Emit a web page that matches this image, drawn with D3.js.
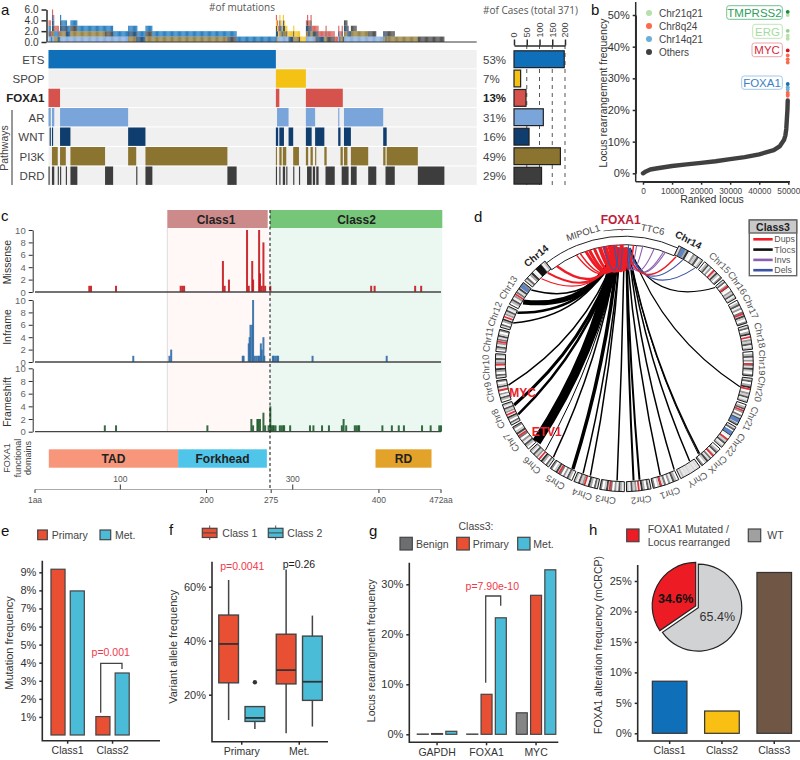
<!DOCTYPE html>
<html>
<head>
<meta charset="utf-8">
<script src="https://cdn.jsdelivr.net/npm/d3@7"></script>
<style>
  body { margin: 0; background: #fff; }
  svg { display: block; font-family: "Liberation Sans", Arial, sans-serif; }
  .axis path, .axis line { stroke: #2b2b2b; stroke-width: 1.5; }
</style>
</head>
<body>
<svg id="fig" width="800" height="760"></svg>
<script>
// panel a: oncoprint, segments are [firstCase, lastCase)
const totalCases = 371;
const rowNames = ["ETS", "SPOP", "FOXA1", "AR", "WNT", "PI3K", "DRD"];
const rowColors = ["#0f6fb8", "#f4c214", "#d6534d", "#7aa5db", "#0f3d6e", "#8b7430", "#3d3d3d"];
const rowPercents = ["53%", "7%", "13%", "31%", "16%", "49%", "29%"];
const rowCases = [197, 26, 47, 115, 59, 182, 108];
const etsSegs = [[0, 197]];
const spopSegs = [[197, 223]];
const foxa1Segs = [[0, 10], [197, 200], [223, 255]];
const arSegs = [[0, 2], [3, 5], [10, 69], [198, 208], [223, 231], [251, 252], [256, 290]];
const wntSegs = [[1, 2], [3, 4], [10, 19], [69, 84], [197, 199], [200, 204], [208, 212], [223, 228], [231, 239], [251, 253], [256, 262], [290, 293]];
const pi3kSegs = [[3, 8], [10, 15], [19, 49], [69, 76], [84, 155], [197, 198], [200, 202], [203, 206], [212, 217], [223, 225], [227, 229], [231, 232], [239, 241], [253, 255], [256, 259], [262, 277], [290, 292], [293, 320]];
const drdSegs = [[0, 1], [3, 5], [8, 9], [10, 11], [15, 16], [19, 25], [49, 56], [76, 77], [84, 90], [155, 163], [197, 198], [200, 201], [203, 205], [206, 207], [212, 213], [217, 218], [224, 228], [229, 231], [232, 234], [240, 248], [254, 260], [262, 267], [277, 284], [292, 300], [320, 343]];
const rowSegs = [etsSegs, spopSegs, foxa1Segs, arSegs, wntSegs, pi3kSegs, drdSegs];
const stackOrder = ["AR", "PI3K", "WNT", "DRD", "ETS", "SPOP", "FOXA1"];
const caseTicks = [0, 50, 100, 150, 200];

// panel b: ranked loci
const rankX = [0, 1000, 2500, 5000, 10000, 15000, 20000, 25000, 30000, 35000, 40000, 45000, 47000, 48500, 49000, 49300, 49500, 49700, 49800];
const rankY = [0, 0.6, 1.2, 1.6, 2.3, 2.8, 3.3, 3.8, 4.5, 5.1, 6.0, 7.3, 8.5, 10.5, 12, 14, 17, 20, 23];
const topLociY = [24.5, 24.9, 25.5, 26.5, 27.2, 28.2, 35, 36, 37.2, 38.8, 42.5, 43.5, 45, 50, 51];
const topLociColors = ["#fb6a4a", "#fb6a4a", "#fb6a4a", "#6baed6", "#6baed6", "#1f6fb5", "#fb6a4a", "#fb6a4a", "#fb6a4a", "#d0121f", "#b6e0ac", "#b6e0ac", "#8fd08a", "#b6e0ac", "#1b8a3e"];
const locusNames = ["Chr21q21", "Chr8q24", "Chr14q21", "Others"];
const locusColors = ["#b6e0ac", "#fb6a4a", "#6baed6", "#404040"];

// panel c: lollipop bars by amino acid
const missenseAA = [64, 66, 95, 170, 172, 174, 219, 221, 226, 247, 249, 253, 254, 261, 262, 264, 266, 268, 274, 391, 395, 442, 449];
const missenseN = [1, 1, 1, 1, 1, 1, 5, 1, 2, 10, 1, 5, 2, 10, 3, 1, 8, 1, 1, 1, 1, 1, 1];
const inframeAA = [115, 157, 159, 242, 243, 249, 250, 251, 253, 254, 256, 258, 260, 261, 263, 264, 266, 267, 277, 278, 280, 282, 283, 323, 409];
const inframeN = [1, 1, 2, 1, 1, 3, 4, 6, 6, 10, 1, 1, 1, 1, 3, 2, 4, 1, 1, 1, 1, 1, 1, 1, 1];
const frameshiftAA = [82, 95, 201, 252, 254, 259, 260, 262, 266, 268, 272, 274, 275, 277, 278, 280, 285, 287, 289, 290, 297, 320, 324, 334, 342, 357, 359, 362, 372, 374, 376, 377, 404, 415, 423, 429, 450, 460, 470, 472];
const frameshiftN = [1, 1, 1, 2, 1, 2, 2, 2, 3, 1, 1, 4, 1, 1, 1, 1, 1, 1, 1, 1, 1, 1, 1, 1, 1, 1, 2, 1, 1, 1, 1, 1, 1, 1, 1, 1, 1, 1, 1, 1];
const domainNames = ["TAD", "Forkhead", "RD"];
const domainStart = [17, 167, 396];
const domainEnd = [167, 270, 461];
const domainColors = ["#f7967a", "#4fc5ea", "#e3a32b"];
const rulerUp = [100, 300];
const rulerDown = [1, 200, 275, 400, 472];

// panel d: circos, angles in degrees clockwise from the top
const chrNames = ["Chr14", "Chr15", "Chr16", "Chr17", "Chr18", "Chr19", "Chr20", "Chr21", "Chr22", "ChrX", "ChrY", "Chr1", "Chr2", "Chr3", "Chr4", "Chr5", "Chr6", "Chr7", "Chr8", "Chr9", "Chr10", "Chr11", "Chr12", "Chr13", "Chr14"];
const chrStart = [25, 38.5, 50, 61, 73, 85, 97, 109, 120, 132, 144, 155, 168, 180, 192, 204, 216, 228, 241, 252, 263, 275, 286, 297, 309.5];
const chrEnd = [37.5, 49, 60, 72, 84, 96, 108, 119, 131, 143, 154, 167, 179, 191, 203, 215, 227, 240, 251, 262, 274, 285, 296, 308.5, 322];
const chrLabelAngle = [27.6, 43.7, 54.8, 66, 78.6, 90, 101, 114, 126.5, 137.5, 148, 160.7, 173, 187.8, 197.8, 210, 222, 234.8, 246, 257.7, 268, 279.6, 290.6, 302.9, 320.5];
const chrRedAt = [-1, 0.55, 0.35, 0.6, 0.5, 0.5, 0.45, 0.3, 0.6, 0.4, -1, 0.7, 0.5, 0.6, 0.55, 0.6, 0.5, 0.6, 0.5, 0.55, 0.55, 0.45, 0.5, 0.45, -1];
const chrBlueAt = [0.2, -1, -1, -1, -1, -1, -1, 0.8, 0.3, -1, -1, -1, -1, -1, -1, -1, -1, -1, -1, -1, -1, -1, -1, 0.85, -1];
const bandsA = ["#fff", "#bbb", "#555", "#eee", "#999", "#fff", "#777", "#ddd", "#444", "#ccc", "#fff", "#888"];
const bandsB = ["#ddd", "#666", "#fff", "#aaa", "#333", "#eee", "#fff", "#999", "#ccc", "#555", "#eee", "#bbb"];
const bandsY = ["#e2e2e2", "#dcdcdc", "#e6e6e6", "#d8d8d8", "#e2e2e2", "#e0e0e0", "#d6d6d6", "#e2e2e2", "#dcdcdc", "#e6e6e6", "#bdbdbd", "#e0e0e0"];

const tlocTarget = [228, 259, 249, 244, 308, 301, 295, 289.7, 205.8, 216.9, 222, 200.4, 196.7, 183.5, 175.5, 172.6, 162.3, 155, 146.4, 140.4, 141, 101.7, 50.4];
const tlocWidth = [9, 1.5, 3, 2.5, 1.5, 5, 2.5, 1.5, 3.5, 1.5, 1, 1.5, 1.5, 1.5, 2, 2, 1.5, 1.5, 1.5, 1.5, 1, 1.2, 1.2];
const tlocSource = [-4, -3, -3, -3, -4, -4, -4, -4, -3, -3, -2, -2, -2, 0, 1, 1, 1, 2, 2, 2, 2, 3, 2];
const dupTarget = [-44.6, -40.4, -35, -24, -22, -19, -17.2, -14.7, -12, -9.5, -7, -4.7, -1.3, 4.5, 26];
const dupWidth = [1.2, 2.2, 2.5, 1.5, 1.5, 3, 3, 3, 4, 5, 5, 5, 4, 1.5, 1.5];
const dupSource = [-4, -4, -4, -3, -3, -3, -3, -3, -2, -2, -1, 0, 1, 1, 1];
const invTarget = [6, 9, 14.7, 19.5, 20.4];
const invSource = [2, 2, 2, 2, 2];
const delTarget = [-10, -5, 2, 29.6, 36.7];
const delSource = [-3, -1, 3, 2, 2];
const circosLegend = ["Dups", "Tlocs", "Invs", "Dels"];
const circosLegendColors = ["#ee1c25", "#111111", "#8e5fb0", "#3a53a4"];

// panel e
const mutGroups = ["Class1", "Class2"];
const mutSeries = ["Primary", "Met."];
const mutPrimary = [9.17, 1.02];
const mutMet = [7.97, 3.43];
const mutTicks = [1, 2, 3, 4, 5, 6, 7, 8, 9];

// panel f
const vafGroups = ["Primary", "Met."];
const vafClasses = ["Class 1", "Class 2"];
const vafLow = [[10.6, 7.3], [5.7, 8.2]];
const vafQ1 = [[24.4, 10.1], [24, 17.9]];
const vafMedian = [[38.8, 11.4], [29.1, 24.8]];
const vafQ3 = [[49.5, 15.6], [42.4, 41.7]];
const vafHigh = [[62.5, 15.6], [66.4, 49.3]];
const vafOutlier = 24.6;
const vafTicks = [20, 40, 60];

// panel g
const rearrGroups = ["GAPDH", "FOXA1", "MYC"];
const rearrSeries = ["Benign", "Primary", "Met."];
const rearrBenign = [0.05, 0.05, 4.3];
const rearrPrimary = [0.15, 8, 27.8];
const rearrMet = [0.6, 23.3, 32.9];
const rearrTicks = [0, 10, 20, 30];

// panel h
const crpcGroups = ["Class1", "Class2", "Class3"];
const crpcValues = [8.55, 3.66, 26.4];
const crpcColors = ["#0f6fb8", "#f9c013", "#705745"];
const crpcTicks = [0, 5, 10, 15, 20, 25];
const pieLabels = ["65.4%", "34.6%"];
const pieValues = [65.4, 34.6];
const pieColors = ["#d1d2d4", "#ed1c24"];

const RED = "#e94f33", CYAN = "#4bbcd8", PVAL = "#f0384a", INK = "#333";
const svg = d3.select("#fig");

function label(parent, x, y, str, size, opts) {
  opts = opts || {};
  return parent.append("text")
    .attr("x", x).attr("y", y)
    .attr("dominant-baseline", "central")
    .attr("text-anchor", opts.anchor || "start")
    .attr("font-size", size)
    .attr("font-weight", opts.bold ? "bold" : "normal")
    .attr("font-family", opts.font || null)
    .attr("fill", opts.color || INK)
    .text(str);
}

function vLabel(parent, x, y, str, size, opts) {
  opts = opts || {};
  return parent.append("text")
    .attr("transform", "translate(" + x + "," + y + ") rotate(-90)")
    .attr("dominant-baseline", "central")
    .attr("text-anchor", "middle")
    .attr("font-size", size)
    .attr("fill", opts.color || INK)
    .text(str);
}

function addAxis(gen, tx, ty, size, color) {
  const g = svg.append("g").attr("class", "axis")
    .attr("transform", "translate(" + tx + "," + ty + ")")
    .call(gen);
  g.selectAll("text").attr("font-size", size).attr("fill", color || INK).attr("font-family", null);
  g.attr("font-family", null);
  return g;
}

[["a", 1, 9], ["b", 591, 9], ["c", 1, 215], ["d", 474, 216], ["e", 1, 530], ["f", 169, 529], ["g", 369, 530], ["h", 589, 529]]
  .forEach(d => label(svg, d[1], d[2], d[0], 15, {color: "#111"}));

// ---------- a ----------
(function () {
  const x = d3.scaleLinear().domain([0, totalCases]).range([48.5, 476.7]);
  const rowTop = [50, 69.3, 88.7, 108, 127.5, 147, 166.5];
  const rowH = 18.4;
  const yCount = d3.scaleLinear().domain([0, 6]).range([42, 9.5]);

  // stacked counts per case come straight from the segments
  const inSeg = (segs, i) => segs.some(s => i >= s[0] && i < s[1]);
  const stackG = svg.append("g");
  d3.range(totalCases).forEach(i => {
    let level = 0;
    stackOrder.forEach(name => {
      const k = rowNames.indexOf(name);
      if (inSeg(rowSegs[k], i)) {
        stackG.append("rect")
          .attr("x", x(i)).attr("width", x(1) - x(0))
          .attr("y", yCount(level + 1)).attr("height", yCount(level) - yCount(level + 1))
          .attr("fill", rowColors[k]).attr("opacity", 0.88);
        level++;
      }
    });
  });
  svg.append("line").attr("x1", 48).attr("x2", 476.7).attr("y1", 42).attr("y2", 42)
    .attr("stroke", "#3a3a3a").attr("stroke-width", 1.2);
  addAxis(d3.axisLeft(yCount).tickValues([0, 2, 4, 6]).tickSize(5).tickSizeOuter(0), 46.5, 0, 10, "#333");
  label(svg, 242, 6.5, "#of mutations", 10, {anchor: "middle", font: "Open Sans", color: "#555"});
  label(svg, 483, 9.5, "#of Cases (total 371)", 10, {font: "Open Sans", color: "#555"});

  rowNames.forEach((name, k) => {
    const y = rowTop[k];
    svg.append("rect").attr("x", x(0)).attr("width", x(totalCases) - x(0))
      .attr("y", y).attr("height", rowH).attr("fill", "#f0f0f0");
    svg.selectAll(null).data(rowSegs[k]).enter().append("rect")
      .attr("x", d => x(d[0])).attr("width", d => x(d[1]) - x(d[0]))
      .attr("y", y).attr("height", rowH).attr("fill", rowColors[k]);
    label(svg, 44.5, y + rowH / 2 + 0.5, name, 11.5, {anchor: "end", bold: name === "FOXA1", color: name === "FOXA1" ? "#222" : "#444"});
    label(svg, 483, y + rowH / 2 + 0.5, rowPercents[k], 11.5, {bold: name === "FOXA1", color: name === "FOXA1" ? "#222" : "#444"});
  });

  vLabel(svg, 4, 148, "Pathways", 10.5, {color: "#444"});
  svg.append("line").attr("x1", 12).attr("x2", 12).attr("y1", 110).attr("y2", 185).attr("stroke", "#333").attr("stroke-width", 1);

  // case count bars
  const xc = d3.scaleLinear().domain([0, 200]).range([514, 565]);
  caseTicks.slice(1).forEach(t => {
    svg.append("line").attr("x1", xc(t)).attr("x2", xc(t)).attr("y1", 45).attr("y2", 185)
      .attr("stroke", "#555").attr("stroke-dasharray", "4,4").attr("stroke-width", 1);
  });
  svg.selectAll(null).data(rowCases).enter().append("rect")
    .attr("x", xc(0)).attr("width", d => xc(d) - xc(0))
    .attr("y", (d, i) => rowTop[i] + 0.8).attr("height", rowH - 1.6)
    .attr("fill", (d, i) => rowColors[i]).attr("stroke", "#222").attr("stroke-width", 1.2);
  const ax = addAxis(d3.axisTop(xc).tickValues(caseTicks).tickSize(6).tickSizeOuter(0), 0, 45.5, 9, "#444");
  ax.selectAll("text").attr("transform", "rotate(-90)").attr("x", 8).attr("y", 0).attr("dy", "0.32em").attr("text-anchor", "start");
})();

// ---------- b ----------
(function () {
  const x = d3.scaleLinear().domain([0, 50000]).range([643, 788.3]);
  const y = d3.scaleLinear().domain([0, 50]).range([173.3, 15]);
  addAxis(d3.axisBottom(x).tickValues(d3.range(0, 50001, 10000)).tickFormat(d3.format("d")).tickSize(3).tickSizeOuter(0), 0, 181.7, 8.3, "#444");
  addAxis(d3.axisLeft(y).tickValues([0, 10, 20, 30, 40, 50]).tickFormat(d => d + "%").tickSize(3).tickSizeOuter(0), 635.7, 0, 11, "#333");
  svg.select("g.axis:last-of-type");
  svg.append("line").attr("x1", 635.7).attr("x2", 790).attr("y1", 181.7).attr("y2", 181.7).attr("stroke", "#2b2b2b").attr("stroke-width", 1.5);
  svg.append("line").attr("x1", 635.7).attr("x2", 635.7).attr("y1", 2).attr("y2", 181.7).attr("stroke", "#2b2b2b").attr("stroke-width", 1.5);
  const line = d3.line().x(d => x(d[0])).y(d => y(d[1]));
  svg.append("path").attr("d", line(d3.zip(rankX, rankY)))
    .attr("fill", "none").attr("stroke", "#404040").attr("stroke-width", 4.4).attr("stroke-linecap", "round").attr("stroke-linejoin", "round");
  svg.selectAll(null).data(topLociY).enter().append("circle")
    .attr("cx", x(49800)).attr("cy", d => y(d)).attr("r", 1.9)
    .attr("fill", (d, i) => topLociColors[i]);
  vLabel(svg, 603, 93, "Locus rearrangement frequency", 10.5);
  label(svg, 712, 199, "Ranked locus", 10.5, {anchor: "middle"});
  locusNames.forEach((name, i) => {
    const ly = 13 + i * 13;
    svg.append("circle").attr("cx", 649).attr("cy", ly).attr("r", 3).attr("fill", locusColors[i]);
    label(svg, 659, ly, name, 10, {color: "#444"});
  });
  [["TMPRSS2", 726.7, 782.3, 5.7, 19.3, "#2e9e58", "#74c28f"],
   ["ERG", 752.7, 782.3, 24.3, 38.3, "#a5dc9e", "#bfe6b8"],
   ["MYC", 752, 782.3, 43, 56.7, "#d62839", "#eaa3a8"],
   ["FOXA1", 741.7, 782.3, 76, 89.3, "#3a80c4", "#a3c8e8"]].forEach(b => {
    svg.append("rect").attr("x", b[1]).attr("y", b[3]).attr("width", b[2] - b[1]).attr("height", b[4] - b[3])
      .attr("rx", 2.5).attr("fill", "#fff").attr("stroke", b[6]).attr("stroke-width", 1);
    label(svg, (b[1] + b[2]) / 2, (b[3] + b[4]) / 2 + 0.5, b[0], 11.5, {anchor: "middle", color: b[5]});
  });
})();

// ---------- c ----------
(function () {
  const x = d3.scaleLinear().domain([1, 472]).range([35, 441]);
  const yTop = 228, yBottom = 431.7;

  svg.append("rect").attr("x", 167.3).attr("y", yTop).attr("width", 102).attr("height", yBottom - yTop).attr("fill", "#fff8f7");
  svg.append("rect").attr("x", 270).attr("y", yTop).attr("width", 172.3).attr("height", yBottom - yTop).attr("fill", "#ebf7f1");
  svg.append("line").attr("x1", 167.3).attr("x2", 167.3).attr("y1", yTop).attr("y2", yBottom).attr("stroke", "#ddd");
  svg.append("rect").attr("x", 167.3).attr("y", 210).attr("width", 100.4).attr("height", 18).attr("fill", "#cc8a8a");
  svg.append("rect").attr("x", 270).attr("y", 210).attr("width", 172.3).attr("height", 18).attr("fill", "#76c679");
  label(svg, 216, 219.5, "Class1", 12, {anchor: "middle", bold: true, color: "#222"});
  label(svg, 356.5, 219.5, "Class2", 12, {anchor: "middle", bold: true, color: "#222"});

  const tracks = [
    {name: "Missense", aa: missenseAA, n: missenseN, top: 230, base: 292, color: "#c4161c", ly: 262},
    {name: "Inframe", aa: inframeAA, n: inframeN, top: 300, base: 362, color: "#2f6ca6", ly: 327},
    {name: "Frameshift", aa: frameshiftAA, n: frameshiftN, top: 368.3, base: 431.7, color: "#1f5c2e", ly: 402}
  ];
  tracks.forEach(t => {
    const y = d3.scaleLinear().domain([0, 10]).range([t.base, t.top]);
    svg.selectAll(null).data(t.aa).enter().append("rect")
      .attr("x", d => x(d) - 1).attr("width", 2)
      .attr("y", (d, i) => y(t.n[i])).attr("height", (d, i) => y(0) - y(t.n[i]))
      .attr("fill", t.color).attr("opacity", 0.9);
    svg.append("line").attr("x1", 35).attr("x2", 441).attr("y1", t.base).attr("y2", t.base).attr("stroke", "#444").attr("stroke-width", 1.3);
    const g = addAxis(d3.axisLeft(y).tickValues([0, 2, 4, 6, 8, 10]).tickSize(4).tickSizeOuter(0), 32.7, 0, 9.5, "#666");
    g.selectAll("path, line").style("stroke-width", 1);
    vLabel(svg, 7, t.ly, t.name, 10.5, {color: "#333"});
  });

  svg.selectAll(null).data(domainNames).enter().append("rect")
    .attr("x", (d, i) => x(domainStart[i])).attr("width", (d, i) => x(domainEnd[i]) - x(domainStart[i]))
    .attr("y", 449.3).attr("height", 18.4).attr("fill", (d, i) => domainColors[i]);
  domainNames.forEach((d, i) => label(svg, (x(domainStart[i]) + x(domainEnd[i])) / 2, 459, d, 12, {anchor: "middle", bold: true, color: "#222"}));
  ["FOXA1", "functional", "domains"].forEach((s, i) => vLabel(svg, 7 + i * 10.5, 458, s, 9, {color: "#444"}));

  svg.append("line").attr("x1", 270).attr("x2", 270).attr("y1", 210).attr("y2", 490)
    .attr("stroke", "#222").attr("stroke-width", 1.1).attr("stroke-dasharray", "3,2.5");

  svg.append("line").attr("x1", 35).attr("x2", 441).attr("y1", 489.5).attr("y2", 489.5).attr("stroke", "#aaa").attr("stroke-width", 1);
  rulerUp.forEach(v => {
    svg.append("line").attr("x1", x(v)).attr("x2", x(v)).attr("y1", 484.5).attr("y2", 489.5).attr("stroke", "#333");
    label(svg, x(v), 479, v, 8.5, {anchor: "middle", color: "#555"});
  });
  rulerDown.forEach(v => {
    svg.append("line").attr("x1", x(v)).attr("x2", x(v)).attr("y1", 489.5).attr("y2", 493).attr("stroke", "#333");
    const s = v === 1 ? "1aa" : v === 472 ? "472aa" : v;
    label(svg, x(v), 500, s, 8.5, {anchor: "middle", color: "#555"});
  });
})();

// ---------- d ----------
(function () {
  const cx = 624.3, cy = 362.7, R = 129, r = 119;
  const rad = a => a * Math.PI / 180;
  const pt = (a, rr) => [cx + rr * Math.sin(rad(a)), cy - rr * Math.cos(rad(a))];
  const arc = d3.arc();
  const ring = svg.append("g").attr("transform", "translate(" + cx + "," + cy + ")");

  // zoomed Chr14 band across the top
  ring.append("path").attr("d", arc({innerRadius: r - 1, outerRadius: R - 2.5, startAngle: rad(-38), endAngle: rad(25)}))
    .attr("fill", "#fff").attr("stroke", "#222").attr("stroke-width", 1);

  chrNames.forEach((name, i) => {
    const a0 = chrStart[i], a1 = chrEnd[i];
    const bands = name === "ChrY" ? bandsY : i % 2 ? bandsA : bandsB;
    const step = (a1 - a0) / bands.length;
    bands.forEach((c, b) => {
      ring.append("path").attr("d", arc({innerRadius: r, outerRadius: R, startAngle: rad(a0 + b * step), endAngle: rad(a0 + (b + 1) * step)}))
        .attr("fill", c);
    });
    if (chrRedAt[i] >= 0) {
      const m = a0 + chrRedAt[i] * (a1 - a0);
      ring.append("path").attr("d", arc({innerRadius: r, outerRadius: R, startAngle: rad(m - 0.4), endAngle: rad(m + 0.4)})).attr("fill", "#e8303a");
    }
    if (chrBlueAt[i] >= 0) {
      const m = a0 + chrBlueAt[i] * (a1 - a0);
      ring.append("path").attr("d", arc({innerRadius: r, outerRadius: R, startAngle: rad(m - 0.9), endAngle: rad(m + 0.9)})).attr("fill", "#5b84c4");
    }
    ring.append("path").attr("d", arc({innerRadius: r, outerRadius: R, startAngle: rad(a0), endAngle: rad(a1)}))
      .attr("fill", "none").attr("stroke", "#1a1a1a").attr("stroke-width", 1);
    const isFocus = name === "Chr14";
    ring.append("text").attr("transform", "rotate(" + chrLabelAngle[i] + ") translate(0," + (-R - 6) + ")")
      .attr("text-anchor", "middle").attr("font-size", isFocus ? 10 : 9.5)
      .attr("font-weight", isFocus ? "bold" : "normal")
      .attr("fill", isFocus ? "#222" : "#555").text(name);
  });
  // black block at the inner end of the left Chr14
  ring.append("path").attr("d", arc({innerRadius: r, outerRadius: R, startAngle: rad(-43.5), endAngle: rad(-40.5)})).attr("fill", "#111");

  [["MIPOL1", -17.6], ["TTC6", 12]].forEach(d => {
    ring.append("text").attr("transform", "rotate(" + d[1] + ") translate(0,-133)")
      .attr("text-anchor", "middle").attr("font-size", 9.5).attr("fill", "#444").text(d[0]);
  });
  const gene = ring.append("path").attr("d", arc({innerRadius: 133, outerRadius: 133.6, startAngle: rad(-9), endAngle: rad(4)})).attr("fill", "#222");
  ring.append("circle").attr("cx", 133 * Math.sin(rad(-1))).attr("cy", -133 * Math.cos(rad(-1))).attr("r", 1).attr("fill", "#e8303a");

  // every link is one quadratic, bent toward the centre
  const linkPath = (tgt, src) => {
    const a = pt(tgt, r - 1), b = pt(src, r - 4);
    const k = 0.6;
    const ctrl = [cx + k * ((a[0] + b[0]) / 2 - cx), cy + k * ((a[1] + b[1]) / 2 - cy)];
    return "M" + a[0] + "," + a[1] + "Q" + ctrl[0] + "," + ctrl[1] + " " + b[0] + "," + b[1];
  };
  const drawLinks = (targets, sources, widths, color) => {
    svg.selectAll(null).data(targets).enter().append("path")
      .attr("d", (d, i) => linkPath(d, sources[i]))
      .attr("fill", "none").attr("stroke", color)
      .attr("stroke-width", (d, i) => widths ? widths[i] : 1.1);
  };
  drawLinks(tlocTarget, tlocSource, tlocWidth, "#000");
  drawLinks(invTarget, invSource, null, "#8e5fb0");
  drawLinks(delTarget.slice(3), delSource.slice(3), null, "#3a53a4");
  drawLinks(dupTarget, dupSource, dupWidth, "#ee1c25");
  drawLinks(delTarget.slice(0, 3), delSource.slice(0, 3), null, "#3a53a4");

  label(svg, 620.7, 220, "FOXA1", 12, {anchor: "middle", bold: true, color: "#c01d3c"});
  label(svg, 522.7, 393.3, "MYC", 12, {anchor: "middle", bold: true, color: "#e8202a"});
  label(svg, 546.7, 431.7, "ETV1", 12, {anchor: "middle", bold: true, color: "#e8202a"});

  svg.append("rect").attr("x", 749.3).attr("y", 220).attr("width", 47.4).attr("height", 55.7).attr("fill", "#fff").attr("stroke", "#666").attr("stroke-width", 1.4);
  svg.append("rect").attr("x", 749.3).attr("y", 220).attr("width", 47.4).attr("height", 13).attr("fill", "#c9c9c9").attr("stroke", "#666").attr("stroke-width", 1.4);
  label(svg, 773, 227, "Class3", 10.5, {anchor: "middle", bold: true, color: "#222"});
  circosLegend.forEach((name, i) => {
    const ly = 239.3 + i * 10.3;
    svg.append("line").attr("x1", 753.3).attr("x2", 772.7).attr("y1", ly).attr("y2", ly).attr("stroke", circosLegendColors[i]).attr("stroke-width", 2.6);
    label(svg, 774.3, ly, name, 8.8, {color: "#555"});
  });
})();

function swatch(x, y, w, h, fill, str, tx, size) {
  svg.append("rect").attr("x", x).attr("y", y).attr("width", w).attr("height", h)
    .attr("fill", fill).attr("stroke", "#444").attr("stroke-width", 1.2);
  if (str) label(svg, tx, y + h / 2, str, size || 11, {color: "#444"});
}

function bracket(x1, x2, yTop, yLeft, yRight) {
  svg.append("path").attr("d", "M" + x1 + "," + yLeft + "V" + yTop + "H" + x2 + "V" + yRight)
    .attr("fill", "none").attr("stroke", "#444").attr("stroke-width", 1.3);
}

function frame(x0, x1, y0, y1) {
  svg.append("path").attr("d", "M" + x0 + "," + y0 + "V" + y1 + "H" + x1)
    .attr("fill", "none").attr("stroke", "#2b2b2b").attr("stroke-width", 1.6);
}

// ---------- e ----------
(function () {
  const x0 = d3.scaleBand().domain(mutGroups).range([45.2, 135]);
  const x1 = d3.scaleBand().domain(mutSeries).range([0, x0.bandwidth()]).paddingInner(0.27).paddingOuter(0.3);
  const y = d3.scaleLinear().domain([0, 9]).range([735, 572.3]);
  [mutPrimary, mutMet].forEach((vals, s) => {
    svg.selectAll(null).data(vals).enter().append("rect")
      .attr("x", (d, i) => x0(mutGroups[i]) + x1(mutSeries[s])).attr("width", x1.bandwidth())
      .attr("y", d => y(d)).attr("height", d => y(0) - y(d))
      .attr("fill", s ? CYAN : RED).attr("stroke", "#444").attr("stroke-width", 1.2);
  });
  addAxis(d3.axisLeft(y).tickValues(mutTicks).tickFormat(d => d + "%").tickSize(3).tickSizeOuter(0), 42.3, 0, 11, "#333").select(".domain").remove();
  addAxis(d3.axisBottom(x0).tickSize(3).tickSizeOuter(0), 0, 740.7, 10.5, "#333").select(".domain").remove();
  frame(42.3, 160, 560.7, 740.7);
  vLabel(svg, 8.5, 643, "Mutation frequency", 11);
  swatch(37.7, 530, 9.6, 9.7, RED, "Primary", 51.7, 10.5);
  swatch(100, 530, 10.7, 9.7, CYAN, "Met.", 115, 10.5);
  bracket(100.7, 122, 663.3, 712.7, 669);
  label(svg, 110.7, 651.7, "p=0.001", 10.5, {anchor: "middle", color: PVAL});
})();

// ---------- f ----------
(function () {
  const x0 = d3.scaleBand().domain(vafGroups).range([213, 328]);
  const x1 = d3.scaleBand().domain(vafClasses).range([0, x0.bandwidth()]).paddingInner(0.25).paddingOuter(0.22);
  const y = d3.scaleLinear().domain([20, 60]).range([694.7, 586.7]);
  vafGroups.forEach((grp, g) => {
    vafClasses.forEach((cls, c) => {
      const left = x0(grp) + x1(cls), w = x1.bandwidth(), mid = left + w / 2;
      svg.append("line").attr("x1", mid).attr("x2", mid).attr("y1", y(vafLow[g][c])).attr("y2", y(vafHigh[g][c]))
        .attr("stroke", "#444").attr("stroke-width", 1.5);
      svg.append("rect").attr("x", left).attr("width", w)
        .attr("y", y(vafQ3[g][c])).attr("height", y(vafQ1[g][c]) - y(vafQ3[g][c]))
        .attr("fill", c ? CYAN : RED).attr("stroke", "#444").attr("stroke-width", 1.4);
      svg.append("line").attr("x1", left).attr("x2", left + w).attr("y1", y(vafMedian[g][c])).attr("y2", y(vafMedian[g][c]))
        .attr("stroke", "#333").attr("stroke-width", 1.8);
    });
  });
  svg.append("circle").attr("cx", x0("Primary") + x1("Class 2") + x1.bandwidth() / 2).attr("cy", y(vafOutlier)).attr("r", 2.2).attr("fill", "#333");
  addAxis(d3.axisLeft(y).tickValues(vafTicks).tickFormat(d => d + "%").tickSize(3).tickSizeOuter(0), 212, 0, 11, "#333").select(".domain").remove();
  addAxis(d3.axisBottom(x0).tickSize(3).tickSizeOuter(0), 0, 741.7, 10.5, "#333").select(".domain").remove();
  frame(212, 328, 561.7, 741.7);
  vLabel(svg, 173.3, 646.7, "Variant allele frequency", 11);
  label(svg, 242.3, 565.7, "p=0.0041", 10.5, {anchor: "middle", color: PVAL});
  label(svg, 299, 564, "p=0.26", 10.5, {anchor: "middle", color: "#222"});
  [[202.3, RED, "Class 1", 222.3], [268.3, CYAN, "Class 2", 287.3]].forEach(d => {
    svg.append("line").attr("x1", d[0] + 7.4).attr("x2", d[0] + 7.4).attr("y1", 525.5).attr("y2", 540).attr("stroke", "#555");
    swatch(d[0], 528.3, 14.7, 9.2, d[1], d[2], d[3], 10.5);
    svg.append("line").attr("x1", d[0]).attr("x2", d[0] + 14.7).attr("y1", 532.9).attr("y2", 532.9).attr("stroke", "#444");
  });
})();

// ---------- g ----------
(function () {
  const x0 = d3.scaleBand().domain(rearrGroups).range([412.3, 560.8]);
  const x1 = d3.scaleBand().domain(rearrSeries).range([0, x0.bandwidth()]).paddingInner(0.23).paddingOuter(0.35);
  const y = d3.scaleLinear().domain([0, 30]).range([734.3, 584.3]);
  const fills = ["#858585", RED, CYAN];
  [rearrBenign, rearrPrimary, rearrMet].forEach((vals, s) => {
    svg.selectAll(null).data(vals).enter().append("rect")
      .attr("x", (d, i) => x0(rearrGroups[i]) + x1(rearrSeries[s])).attr("width", x1.bandwidth())
      .attr("y", d => y(d)).attr("height", d => y(0) - y(d))
      .attr("fill", fills[s]).attr("stroke", "#444").attr("stroke-width", 1.2);
  });
  addAxis(d3.axisLeft(y).tickValues(rearrTicks).tickFormat(d => d + "%").tickSize(3).tickSizeOuter(0), 409.3, 0, 11, "#333").select(".domain").remove();
  addAxis(d3.axisBottom(x0).tickSize(3).tickSizeOuter(0), 0, 742.3, 10.5, "#333").select(".domain").remove();
  frame(409.3, 558.3, 562.7, 742.3);
  vLabel(svg, 370.7, 650.7, "Locus rearrangment frequency", 10.5);
  label(svg, 476, 526, "Class3:", 10.5, {anchor: "middle", color: "#444"});
  swatch(400, 537.3, 12.3, 12.7, "#6d6e71", "Benign", 416, 10.5);
  swatch(456.7, 537.3, 12.6, 12.7, RED, "Primary", 472.7, 10.5);
  swatch(517.7, 537.3, 12.3, 12.7, CYAN, "Met.", 533.3, 10.5);
  bracket(485.7, 500.7, 596, 682.7, 605.7);
  label(svg, 492.3, 585.7, "p=7.90e-10", 10.5, {anchor: "middle", color: PVAL});
})();

// ---------- h ----------
(function () {
  const x = d3.scaleBand().domain(crpcGroups).range([643.5, 800.4]).paddingInner(0.338).paddingOuter(0.169);
  const y = d3.scaleLinear().domain([0, 25]).range([733.3, 581]);
  svg.selectAll(null).data(crpcValues).enter().append("rect")
    .attr("x", (d, i) => x(crpcGroups[i])).attr("width", x.bandwidth())
    .attr("y", d => y(d)).attr("height", d => y(0) - y(d))
    .attr("fill", (d, i) => crpcColors[i]).attr("stroke", "#333").attr("stroke-width", 1.2);
  addAxis(d3.axisLeft(y).tickValues(crpcTicks).tickFormat(d => d + "%").tickSize(3).tickSizeOuter(0), 637.7, 0, 11, "#333").select(".domain").remove();
  addAxis(d3.axisBottom(x).tickSize(3).tickSizeOuter(0), 0, 741, 10.5, "#333").select(".domain").remove();
  frame(637.7, 800, 565, 741);
  vLabel(svg, 598.3, 645, "FOXA1 alteration frequency (mCRCP)", 10.5);

  swatch(626.7, 529, 12.3, 12.7, "#ed1c24");
  label(svg, 647.7, 529, "FOXA1 Mutated /", 10.5, {color: "#444"});
  label(svg, 647.7, 541.7, "Locus rearranged", 10.5, {color: "#444"});
  swatch(748.3, 529, 12.4, 12.7, "#a0a0a0", "WT", 767.3, 10.5);

  const pie = d3.pie().sort(null)(pieValues);
  const pieArc = d3.arc().innerRadius(0).outerRadius(43.5);
  const pieG = svg.append("g").attr("transform", "translate(698.3,607.7)");
  pieG.selectAll(null).data(pie).enter().append("path")
    .attr("d", pieArc)
    .attr("transform", (d, i) => i ? "translate(-2.6,-1.8)" : null)
    .attr("fill", (d, i) => pieColors[i]).attr("stroke", "#222").attr("stroke-width", 1.2);
  label(svg, 717.3, 617.3, pieLabels[0], 12.5, {anchor: "middle", color: "#333"});
  label(svg, 675.7, 599, pieLabels[1], 12.5, {anchor: "middle", bold: true, color: "#111"});
})();
</script>
</body>
</html>
